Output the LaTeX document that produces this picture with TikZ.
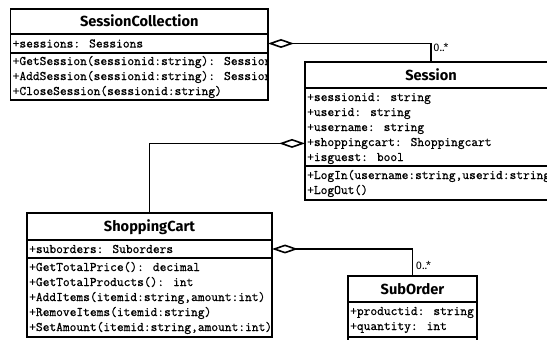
\documentclass[tikz,border=0pt]{standalone}
\usepackage{fontspec}
\setsansfont{Fira Sans}
\newfontfamily\memberfont{Latin Modern Mono}[FakeBold=0.8]
\usetikzlibrary{arrows.meta}
\tikzset{
  classframe/.style={draw, line width=1.8pt, inner sep=0pt, outer sep=0pt, anchor=north west},
  compline/.style={line width=1.3pt},
  ttl/.style={font=\sffamily\bfseries\fontsize{14.6}{18}\selectfont, inner sep=0pt, anchor=base},
  mem/.style={font=\memberfont\fontsize{13.1}{15}\selectfont, inner sep=0pt, anchor=base west},
  mult/.style={font=\sffamily\fontsize{11}{12}\selectfont, inner sep=0pt},
  aggr/.style={line width=1.8pt, {Diamond[fill=white, length=26pt 0, width=9pt 0, line width=1.6pt]}-},
}
\begin{document}
\begin{tikzpicture}[x=1pt,y=-1pt]
\useasboundingbox (0,0) rectangle (547,340);
\clip (0,0) rectangle (547,340);
\fill[white] (0,0) rectangle (547,340);

% ---------- SessionCollection ----------
\node[classframe, minimum width=257.5pt, minimum height=91pt] (sc) at (10.5,9) {};
\begin{scope}
  \clip (sc.north west) rectangle (sc.south east);
  \node[ttl] (sc-t) at (139.25,26.5) {SessionCollection};
  \node[mem] (sc-a1) at (12.5,47.5) {+sessions: Sessions};
  \node[mem] (sc-m1) at (12.5,65) {+GetSession(sessionid:string): Session};
  \node[mem] (sc-m2) at (12.5,80) {+AddSession(sessionid:string): Session};
  \node[mem] (sc-m3) at (12.5,95) {+CloseSession(sessionid:string)};
\end{scope}
\draw[compline] (sc.west |- 0,34) -- (sc.east |- 0,34);
\draw[compline] (sc.west |- 0,53) -- (sc.east |- 0,53);

% ---------- Session ----------
\node[classframe, minimum width=252pt, minimum height=138pt] (ses) at (305,62) {};
\begin{scope}
  \clip (ses.north west) rectangle (ses.south east);
  \node[ttl] (ses-t) at (431,80) {Session};
  \node[mem] (ses-a1) at (307,101) {+sessionid: string};
  \node[mem] (ses-a2) at (307,116) {+userid: string};
  \node[mem] (ses-a3) at (307,131) {+username: string};
  \node[mem] (ses-a4) at (307,146) {+shoppingcart: Shoppingcart};
  \node[mem] (ses-a5) at (307,161) {+isguest: bool};
  \node[mem] (ses-m1) at (307,179) {+LogIn(username:string,userid:string)};
  \node[mem] (ses-m2) at (307,194) {+LogOut()};
\end{scope}
\draw[compline] (ses.west |- 0,88) -- (ses.east |- 0,88);
\draw[compline] (ses.west |- 0,166) -- (ses.east |- 0,166);

% ---------- ShoppingCart ----------
\node[classframe, minimum width=245pt, minimum height=124pt] (cart) at (27,213) {};
\begin{scope}
  \clip (cart.north west) rectangle (cart.south east);
  \node[ttl] (cart-t) at (149.5,231.5) {ShoppingCart};
  \node[mem] (cart-a1) at (29,253) {+suborders: Suborders};
  \node[mem] (cart-m1) at (29,271) {+GetTotalPrice(): decimal};
  \node[mem] (cart-m2) at (29,286) {+GetTotalProducts(): int};
  \node[mem] (cart-m3) at (29,301) {+AddItems(itemid:string,amount:int)};
  \node[mem] (cart-m4) at (29,316) {+RemoveItems(itemid:string)};
  \node[mem] (cart-m5) at (29,331) {+SetAmount(itemid:string,amount:int)};
\end{scope}
\draw[compline] (cart.west |- 0,240) -- (cart.east |- 0,240);
\draw[compline] (cart.west |- 0,258) -- (cart.east |- 0,258);

% ---------- SubOrder ----------
\node[classframe, minimum width=129pt, minimum height=90pt] (sub) at (348,276) {};
\begin{scope}
  \clip (sub.north west) rectangle (sub.south east);
  \node[ttl] (sub-t) at (412.5,294) {SubOrder};
  \node[mem] (sub-a1) at (350,315) {+productid: string};
  \node[mem] (sub-a2) at (350,330) {+quantity: int};
\end{scope}
\draw[compline] (sub.west |- 0,302) -- (sub.east |- 0,302);
\draw[compline] (sub.west |- 0,337) -- (sub.east |- 0,337);

% ---------- aggregations ----------
\draw[aggr] (sc.east |- sc-a1) -| (ses.north);
\draw[aggr] (ses.west |- ses-a4) -| (cart.north);
\draw[aggr] (cart.east |- cart-a1) -| (sub.north);

\node[mult] (mul1) at ([shift={(10,-14)}]ses.north) {0..*};
\node[mult] (mul2) at ([shift={(11,-11)}]sub.north) {0..*};
\end{tikzpicture}
\end{document}
